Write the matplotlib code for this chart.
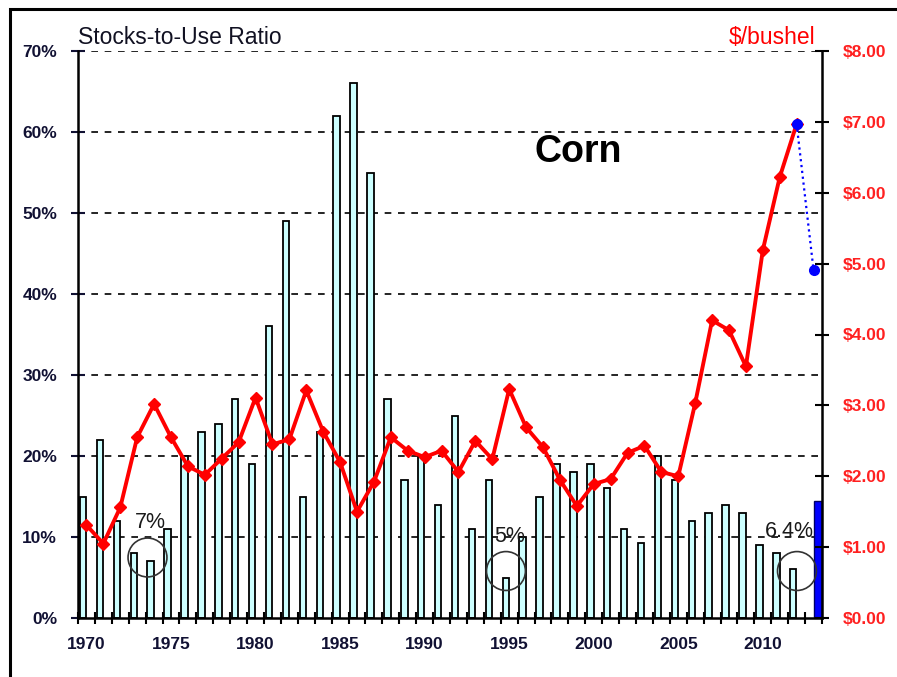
import numpy as np
import matplotlib
matplotlib.use("Agg")
import matplotlib.pyplot as plt
from matplotlib.patches import Ellipse, Rectangle

plt.rcParams['font.family'] = ['Liberation Sans', 'DejaVu Sans']

# data
years = list(range(1970, 2014))
stocks_use = [15, 22, 12, 8, 7, 11, 20, 23, 24, 27,
              19, 36, 49, 15, 23, 62, 66, 55, 27, 17,
              20, 14, 25, 11, 17, 5, 10, 15, 19, 18,
              19, 16, 11, 9.3, 20, 17, 12, 13, 14, 13,
              9, 8, 6]
proj_2013_stocks = 14.5
price = [1.31, 1.05, 1.56, 2.55, 3.02, 2.55, 2.14, 2.02, 2.25, 2.48,
         3.11, 2.45, 2.52, 3.21, 2.63, 2.20, 1.50, 1.92, 2.55, 2.36,
         2.27, 2.36, 2.06, 2.50, 2.24, 3.23, 2.69, 2.41, 1.95, 1.58,
         1.89, 1.96, 2.33, 2.43, 2.06, 2.00, 3.03, 4.20, 4.06, 3.55,
         5.19, 6.22, 6.97]
proj_price = [6.97, 4.91]
year_labels = [1970, 1975, 1980, 1985, 1990, 1995, 2000, 2005, 2010]

idx = np.arange(len(years))
n_hist = len(stocks_use)

fig = plt.figure(figsize=(8.97, 6.77), dpi=100)
ax = fig.add_axes([78 / 897, 1 - 618 / 677, 744 / 897, 567 / 677])

# outer frame
fig.patches.append(Rectangle((10 / 897, -0.1), 1.2, 1 - 9 / 677 + 0.1,
                             transform=fig.transFigure, fill=False,
                             edgecolor='black', linewidth=2.2))

ax.bar(idx[:n_hist] - 0.2, stocks_use, width=0.38, color='#ccffff',
       edgecolor='black', linewidth=1.3, zorder=2)
ax.bar(idx[n_hist] + 0.26, proj_2013_stocks, width=0.46, color='#0000ff',
       edgecolor='#000066', linewidth=1.0, zorder=2)

ax.set_xlim(-0.5, len(years) - 0.5)
ax.set_ylim(0, 70)
ax.set_yticks(range(0, 71, 10))
ax.set_yticklabels([f"{v}%" for v in range(0, 71, 10)])
for v in range(10, 71, 10):
    ax.axhline(v, color='black', linestyle=(0, (4, 4)), linewidth=1.2, zorder=1)

ax.set_xticks([years.index(y) for y in year_labels])
ax.set_xticklabels([str(y) for y in year_labels])
ax.set_xticks(np.arange(len(years) + 1) - 0.5, minor=True)
ax.tick_params(axis='x', which='major', length=0, pad=14,
               labelsize=12.5, colors='#111133')
ax.tick_params(axis='x', which='minor', direction='inout', length=8, width=1.5)
ax.tick_params(axis='y', direction='inout', length=10, width=1.5,
               labelsize=12.5, colors='#111133', pad=10)
for lbl in ax.get_xticklabels() + ax.get_yticklabels():
    lbl.set_fontweight('bold')
ax.spines['top'].set_visible(False)
ax.spines['right'].set_visible(False)
for s in ['left', 'bottom']:
    ax.spines[s].set_linewidth(1.8)

# circled lows
for cx, cy in [(3.61, 7.47), (24.81, 5.8), (42.02, 5.8)]:
    ax.add_patch(Ellipse((cx, cy), 2.3, 4.8, fill=False, edgecolor='#333333',
                         linewidth=1.2, zorder=4))
ax.text(3.76, 11.85, "7%", fontsize=15.5, ha='center', va='center', color='#1a1a1a', zorder=5)
ax.text(25.05, 10.0, "5%", fontsize=15.5, ha='center', va='center', color='#1a1a1a', zorder=5)
ax.text(41.6, 10.7, "6.4%", fontsize=15.5, ha='center', va='center', color='#1a1a1a', zorder=5)

ax2 = ax.twinx()
ax2.set_ylim(0, 8)
ax2.plot(idx[:n_hist], price, '-D', color='#ff0000', linewidth=2.8,
         markersize=6.5, zorder=3)
ax2.plot(idx[n_hist - 1:n_hist + 1], proj_price, ':o', color='#0000ff',
         linewidth=1.6, markersize=7, zorder=4)
ax2.set_yticks(range(0, 9))
ax2.set_yticklabels([f"${v:.2f}" for v in range(0, 9)])
ax2.tick_params(axis='y', direction='inout', length=10, width=1.5,
                labelsize=12.5, colors='#ff2020', pad=10)
for lbl in ax2.get_yticklabels():
    lbl.set_fontweight('bold')
ax2.tick_params(axis='y', color='black')
for s in ['top', 'left', 'bottom']:
    ax2.spines[s].set_visible(False)
ax2.spines['right'].set_linewidth(1.8)

fig.text(78 / 897, 1 - 44 / 677, "Stocks-to-Use Ratio", fontsize=16.5,
         color='#111122', ha='left', va='baseline')
fig.text(815 / 897, 1 - 44 / 677, "$/bushel", fontsize=16.5,
         color='#ff0000', ha='right', va='baseline')
fig.text(578 / 897, 1 - 152 / 677, "Corn", fontsize=27, fontweight='bold',
         color='black', ha='center', va='center')

fig.savefig("out.png", dpi=100)
